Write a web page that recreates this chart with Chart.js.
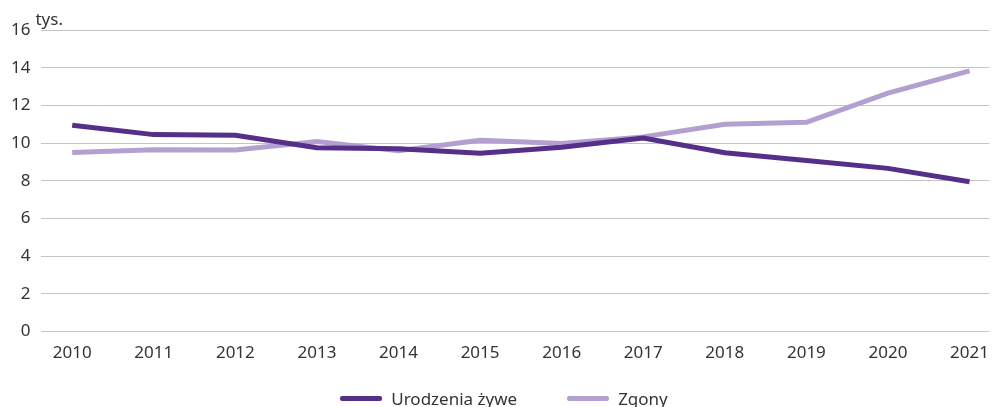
<!DOCTYPE html>
<html>
<head>
<meta charset="utf-8">
<script src="https://cdn.jsdelivr.net/npm/chart.js@4"></script>
<style>
  html, body { margin: 0; padding: 0; background: #fff; }
  #wrap { position: relative; width: 1000px; height: 407px; }
  #legend {
    position: absolute; left: 0; top: 387px; width: 1000px;
    display: flex; justify-content: center; gap: 50px;
    font: 17px "Noto Sans"; color: #333; padding-left: 8px; box-sizing: border-box;
  }
  #legend .item { display: flex; align-items: center; gap: 9px; }
  #legend .sw { width: 42px; height: 5px; border-radius: 2px; }
</style>
</head>
<body>
<div id="wrap">
  <canvas id="myChart"></canvas>
  <div id="legend"></div>
</div>
<script>
const years = [2010, 2011, 2012, 2013, 2014, 2015, 2016, 2017, 2018, 2019, 2020, 2021]
const urodzenia = [10.95, 10.45, 10.42, 9.75, 9.7, 9.46, 9.78, 10.27, 9.49, 9.08, 8.66, 7.95]
const zgony = [9.5, 9.65, 9.64, 10.08, 9.6, 10.15, 9.98, 10.33, 11.0, 11.1, 12.65, 13.83]
const yTicks = [0, 2, 4, 6, 8, 10, 12, 14, 16]

const font = { family: 'Noto Sans', size: 17 }

const unitLabel = {
    id: 'unitLabel',
    afterDraw(chart) {
        const c = chart.ctx
        c.save()
        c.font = '17px "Noto Sans"'
        c.fillStyle = '#333'
        c.textBaseline = 'alphabetic'
        c.fillText('tys.', chart.chartArea.left - 6, chart.chartArea.top - 5)
        c.restore()
    }
}

const ctx = document.getElementById('myChart').getContext('2d')
const chart = new Chart(ctx, {
    type: 'line',
    data: {
        datasets: [
            {
                label: 'Urodzenia żywe',
                data: years.map((y, i) => ({ x: y, y: urodzenia[i] })),
                borderColor: '#552f88',
                backgroundColor: '#552f88',
                borderWidth: 5,
                pointRadius: 0,
                tension: 0
            },
            {
                label: 'Zgony',
                data: years.map((y, i) => ({ x: y, y: zgony[i] })),
                borderColor: '#b3a0d0',
                backgroundColor: '#b3a0d0',
                borderWidth: 5,
                pointRadius: 0,
                tension: 0
            }
        ]
    },
    options: {
        responsive: true,
        maintainAspectRatio: false,
        animation: false,
        layout: { padding: { top: 30, right: 0, left: 0, bottom: 33 } },
        plugins: {
            legend: { display: false },
            tooltip: { enabled: false }
        },
        scales: {
            x: {
                type: 'linear',
                min: 2009.623,
                max: 2021.243,
                afterBuildTicks: axis => {
                    axis.ticks = years.map(v => ({ value: v }))
                },
                grid: { display: false, drawTicks: false },
                border: { display: false },
                ticks: {
                    font: font,
                    color: '#333',
                    padding: 11,
                    maxRotation: 0,
                    autoSkip: false,
                    callback: v => String(v)
                }
            },
            y: {
                min: 0,
                max: 16,
                afterBuildTicks: axis => {
                    axis.ticks = yTicks.map(v => ({ value: v }))
                },
                grid: { color: '#c4c4c4', lineWidth: 1, drawTicks: false },
                border: { display: false },
                ticks: {
                    font: font,
                    color: '#333',
                    padding: 11
                }
            }
        }
    },
    plugins: [unitLabel]
})

const legendEl = document.getElementById('legend')
chart.data.datasets.forEach(ds => {
    const item = document.createElement('div')
    item.className = 'item'
    const sw = document.createElement('span')
    sw.className = 'sw'
    sw.style.background = ds.borderColor
    const txt = document.createElement('span')
    txt.textContent = ds.label
    item.appendChild(sw)
    item.appendChild(txt)
    legendEl.appendChild(item)
})
</script>
</body>
</html>
